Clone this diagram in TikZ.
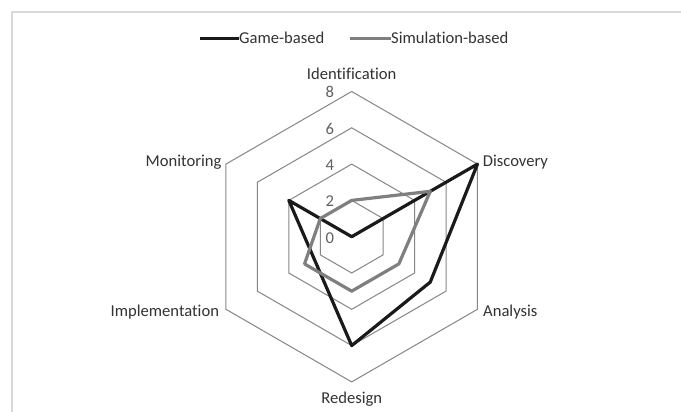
\documentclass[tikz,border=0pt]{standalone}
\usepackage{fontspec}
\setmainfont{Carlito}[Ligatures={NoCommon}]
\usetikzlibrary{positioning}

\definecolor{gridgray}{HTML}{868686}
\definecolor{simgray}{HTML}{7F7F7F}
\definecolor{gameblack}{HTML}{1A1A1A}
\definecolor{labelgray}{HTML}{333333}
\definecolor{tickgray}{HTML}{606060}
\definecolor{framegray}{HTML}{D9D9D9}

\newcommand{\ru}{18.15}

\tikzset{
  chartfont/.style={font=\fontsize{16.6}{20}\selectfont, inner sep=0pt},
  axislabel/.style={chartfont, text=labelgray},
  ticklabel/.style={chartfont, text=tickgray, anchor=base east},
  gridline/.style={draw=gridgray, line width=1pt},
  gameline/.style={draw=gameblack, line width=3.2pt, line join=round},
  simline/.style={draw=simgray, line width=3.2pt, line join=round}
}

\begin{document}
\begin{tikzpicture}[x=1pt, y=1pt]
        \clip (-351.7,-175.3) rectangle (329.3,236.7);
        \fill[white] (-351.7,-175.3) rectangle (329.3,236.7);
        \draw[framegray, line width=1.3pt] (-339.7,-200) -- (-339.7,224.7) -- (400,224.7);

        % grid hexagons
        \foreach \lv in {2,4,6,8}
          \draw[gridline] (90:{\lv*\ru}) -- (30:{\lv*\ru}) -- (-30:{\lv*\ru}) -- (-90:{\lv*\ru}) -- (210:{\lv*\ru}) -- (150:{\lv*\ru}) -- cycle;

        % scale
        \node[ticklabel] (tick0) at (-17.5,{0*\ru-6.4}) {0};
        \node[ticklabel] (tick2) at (-17.5,{2*\ru-6.4}) {2};
        \node[ticklabel] (tick4) at (-17.5,{4*\ru-6.4}) {4};
        \node[ticklabel] (tick6) at (-17.5,{6*\ru-6.4}) {6};
        \node[ticklabel] (tick8) at (-17.5,{8*\ru-6.4}) {8};

        % axis labels
        \node[axislabel, anchor=base] (ident) at (0,156.7) {Identification};
        \node[axislabel, anchor=base west] (disc) at (131,70.5) {Discovery};
        \node[axislabel, anchor=base west] (anal) at (131.3,-80) {Analysis};
        \node[axislabel, anchor=base] (redes) at (0,-166.6) {Redesign};
        \node[axislabel, anchor=base east] (impl) at (-132.5,-80) {Implementation};
        \node[axislabel, anchor=base east] (monit) at (-130,70.5) {Monitoring};

        % game-based
        \coordinate (g1) at (90:{0*\ru});
        \coordinate (g2) at (30:{8*\ru});
        \coordinate (g3) at (-30:{5*\ru});
        \coordinate (g4) at (-90:{6*\ru});
        \coordinate (g5) at (210:{2.4*\ru});
        \coordinate (g6) at (150:{4*\ru});
        \draw[gameline] (g1) -- (g2) -- (g3) -- (g4) -- (g5) -- (g6) -- cycle;

        % simulation-based
        \coordinate (s1) at (90:{2*\ru});
        \coordinate (s2) at (30:{5*\ru});
        \coordinate (s3) at (-30:{3*\ru});
        \coordinate (s4) at (-90:{3*\ru});
        \coordinate (s5) at (210:{3*\ru});
        \coordinate (s6) at (150:{2*\ru});
        \draw[simline] (s1) -- (s2) -- (s3) -- (s4) -- (s5) -- (s6) -- cycle;

        % legend
        \node[axislabel, anchor=base west] (gamekey) at (-112.7,193.4) {Game-based};
        \node[axislabel, anchor=base west] (simkey) at (39.3,193.4) {Simulation-based};
        \coordinate (gamestart) at (-151.7,198.4);
        \coordinate (simstart) at (-1.7,198.4);
        \draw[gameline] (gamestart) -- (gamestart -| gamekey.west);
        \draw[simline] (simstart) -- (simstart -| simkey.west);
\end{tikzpicture}
\end{document}
